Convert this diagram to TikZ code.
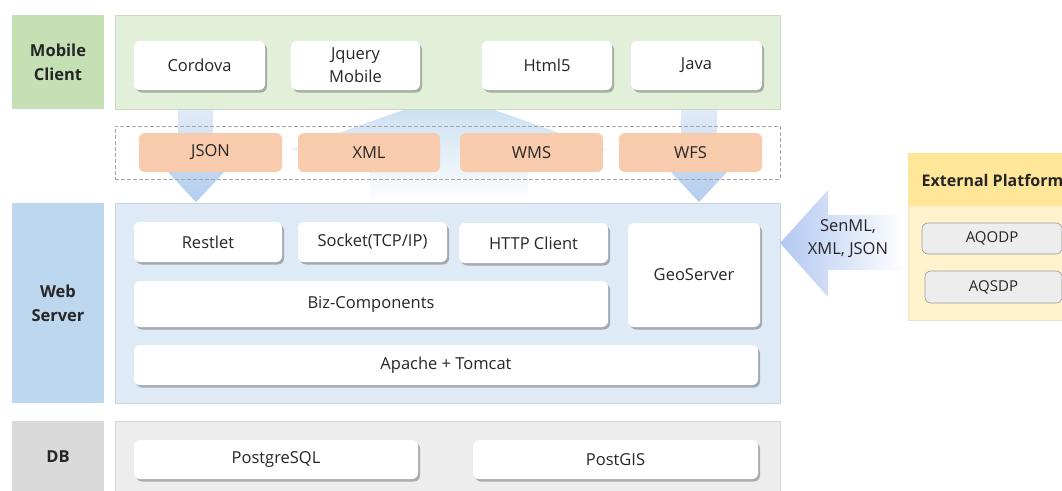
\documentclass[tikz,border=0pt]{standalone}
\usepackage{fontspec}
\setmainfont{Open Sans}
\usetikzlibrary{shadows}
\definecolor{txt}{HTML}{262626}
\definecolor{mlabc}{HTML}{C5E0B4}
\definecolor{mpanc}{HTML}{E2F0D9}
\definecolor{wlabc}{HTML}{BDD7EE}
\definecolor{wpanc}{HTML}{DEEBF7}
\definecolor{dlabc}{HTML}{D9D9D9}
\definecolor{dpanc}{HTML}{EDEDED}
\definecolor{orangec}{HTML}{F8CBAD}
\definecolor{exthead}{HTML}{FFE699}
\definecolor{extbody}{HTML}{FFF2CC}
\definecolor{arrowdark}{HTML}{B2CDEE}
\definecolor{arrowlight}{HTML}{E1EBF8}
\begin{document}
\begin{tikzpicture}[x=1pt,y=-1pt,
  every node/.style={font=\fontsize{16.5}{23}\selectfont, text=txt, align=center, inner sep=0pt},
  lab/.style={fill=#1, font=\bfseries\fontsize{16.5}{24}\selectfont},
  pan/.style={fill=#1, draw=#1!90!black, line width=0.4pt},
  wbox/.style={fill=white, rounded corners=6pt,
    drop shadow={shadow xshift=2pt, shadow yshift=-2.5pt, opacity=0.4, fill=black!70}},
  obox/.style={fill=orangec, rounded corners=6pt},
  gbox/.style={fill=dpanc, draw=black!40, line width=0.6pt, rounded corners=6pt, font=\fontsize{15}{18}\selectfont},
  dashbox/.style={draw=black!35, dashed, dash pattern=on 4pt off 2pt, line width=0.8pt}
]
\useasboundingbox (0,0) rectangle (1062,490);
\clip (0,0) rectangle (1062,490);

% background flow arrows
\shade[top color=arrowlight, bottom color=arrowdark]
  (178,109) -- (213,109) -- (213,170) -- (226,170) -- (196,202) -- (166,170) -- (178,170) -- cycle;
\shade[top color=arrowlight, bottom color=arrowdark]
  (681,109) -- (717,109) -- (717,170) -- (729,170) -- (699,202) -- (669,170) -- (681,170) -- cycle;
\shade[top color=wlabc!90, bottom color=white]
  (370,203) -- (370,150) -- (290,150) -- (449,94) -- (608,150) -- (528,150) -- (528,203) -- cycle;

% Mobile client layer
\node[lab=mlabc, minimum width=92pt, minimum height=94pt] (mlab) at (58,62) {Mobile\\Client};
\node[pan=mpanc, minimum width=665pt, minimum height=94pt] (mpan) at (447.5,62) {};
\node[wbox, minimum width=131pt, minimum height=49pt] (cordova) at (199.5,65.5) {Cordova};
\node[wbox, minimum width=129pt, minimum height=49pt] (jquery) at (355.5,65.5) {Jquery\\Mobile};
\node[wbox, minimum width=130pt, minimum height=49pt] (html) at (547,65.5) {Html5};
\node[wbox, minimum width=131pt, minimum height=49pt] (java) at (696.5,65.5) {Java};

% formats
\node[dashbox, minimum width=665pt, minimum height=53pt] (fmt) at (447.5,152.5) {};
\node[obox, minimum width=143pt, minimum height=39pt] (json) at (210.5,152.5) {JSON};
\node[obox, minimum width=142pt, minimum height=39pt] (xml) at (369,152.5) {XML};
\node[obox, minimum width=143pt, minimum height=39pt] (wms) at (531.5,152.5) {WMS};
\node[obox, minimum width=143pt, minimum height=39pt] (wfs) at (690.5,152.5) {WFS};

% Web server layer
\node[lab=wlabc, minimum width=92pt, minimum height=200pt] (wlab) at (58,303) {Web\\Server};
\node[pan=wpanc, minimum width=665pt, minimum height=200pt] (wpan) at (447.5,303) {};
\node[wbox, minimum width=148pt, minimum height=40pt] (restlet) at (208,242) {Restlet};
\node[wbox, minimum width=149pt, minimum height=40pt] (socket) at (372.5,242) {Socket(TCP/IP)};
\node[wbox, minimum width=149pt, minimum height=40pt] (http) at (533.5,243) {HTTP Client};
\node[wbox, minimum width=132pt, minimum height=104pt] (geo) at (694,275) {GeoServer};
\node[wbox, minimum width=474pt, minimum height=46pt] (biz) at (371,304) {Biz-Components};
\node[wbox, minimum width=624pt, minimum height=40pt] (apache) at (446,365) {Apache + Tomcat};

% DB layer
\node[lab=dlabc, minimum width=92pt, minimum height=72pt] (dlab) at (58,457) {DB};
\node[pan=dpanc, minimum width=665pt, minimum height=72pt] (dpan) at (447.5,457) {};
\node[wbox, minimum width=284pt, minimum height=39pt] (pg) at (276,459.5) {PostgreSQL};
\node[wbox, minimum width=285pt, minimum height=39pt] (postgis) at (615.5,459.5) {PostGIS};

% External platform
\node[fill=extbody, draw=exthead!80!black!40, line width=0.4pt, minimum width=170pt, minimum height=167pt, anchor=north west] (ext) at (908,153) {};
\node[fill=exthead, minimum width=170pt, minimum height=53pt, anchor=north west] (exth) at (908,153) {};
\node[font=\bfseries\fontsize{16}{20}\selectfont] (extt) at (992.5,180) {External Platform};
\node[gbox, minimum width=140pt, minimum height=31pt] (aqodp) at (992,238.5) {AQODP};
\node[gbox, minimum width=137pt, minimum height=32pt] (aqsdp) at (993.5,287) {AQSDP};

% incoming arrow
\shade[left color=wlabc!90!blue!90, right color=white]
  (780,243) -- (828,190) -- (828,215) -- (905,215) -- (905,270) -- (828,270) -- (828,297) -- cycle;
\node (senml) at (848,239) {SenML,\\XML, JSON};
\end{tikzpicture}
\end{document}
